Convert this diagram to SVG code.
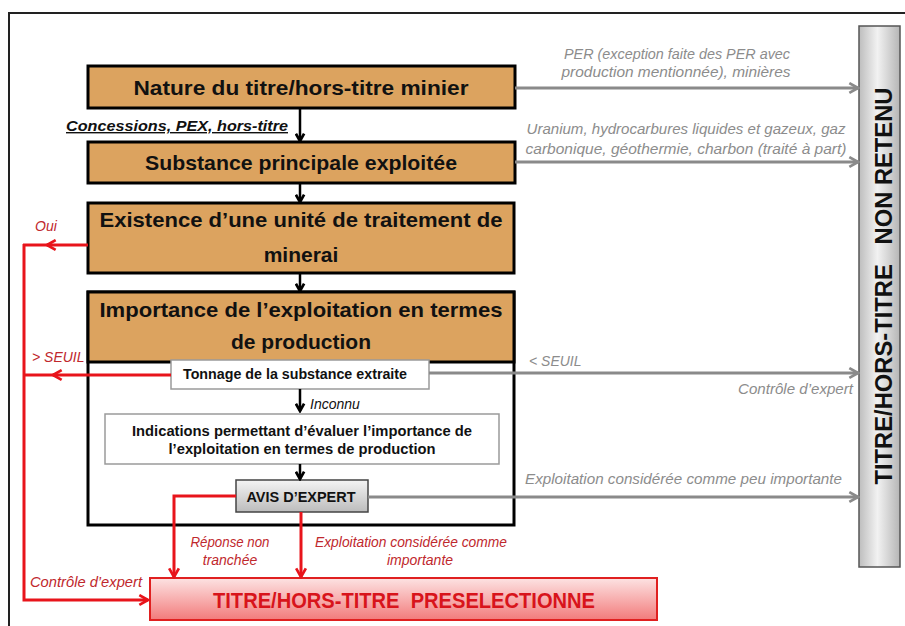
<svg xmlns="http://www.w3.org/2000/svg" width="905" height="626" viewBox="0 0 905 626">
<defs>
<style>
text{white-space:pre}
.box{fill:#DCA35F;stroke:#000;stroke-width:3}
.bt{font-family:"Liberation Sans",Arial,sans-serif;font-weight:bold;font-size:21px;fill:#111;text-anchor:middle}
.st{font-family:"Liberation Sans",Arial,sans-serif;font-weight:bold;font-size:14px;fill:#111;text-anchor:middle}
.gt{font-family:"Liberation Sans",Arial,sans-serif;font-style:italic;font-size:14px;fill:#8c8c8c}
.rt{font-family:"Liberation Sans",Arial,sans-serif;font-style:italic;font-size:14px;fill:#c0282d}
.blk{stroke:#000;stroke-width:2.5;fill:none}
.gry{stroke:#8a8a8a;stroke-width:3;fill:none}
.red{stroke:#e8141b;stroke-width:3;fill:none}
</style>
<marker id="mb" viewBox="0 0 12 12" refX="10" refY="6" markerWidth="11" markerHeight="11" markerUnits="userSpaceOnUse" orient="auto"><path d="M2,1.5 L10,6 L2,10.5" fill="none" stroke="#000" stroke-width="3"/></marker>
<marker id="mg" viewBox="0 0 12 12" refX="10" refY="6" markerWidth="13" markerHeight="13" markerUnits="userSpaceOnUse" orient="auto"><path d="M2,1.5 L10,6 L2,10.5" fill="none" stroke="#8a8a8a" stroke-width="2.5"/></marker>
<marker id="mr" viewBox="0 0 12 12" refX="10" refY="6" markerWidth="13" markerHeight="13" markerUnits="userSpaceOnUse" orient="auto"><path d="M2,1.5 L10,6 L2,10.5" fill="none" stroke="#e8141b" stroke-width="2.5"/></marker>
<linearGradient id="gPre" x1="0" y1="0" x2="0" y2="1"><stop offset="0" stop-color="#fde3e3"/><stop offset="1" stop-color="#f27b7b"/></linearGradient>
<linearGradient id="gNon" x1="0" y1="0" x2="1" y2="0"><stop offset="0" stop-color="#bdbdbd"/><stop offset="0.45" stop-color="#f2f2f2"/><stop offset="1" stop-color="#b5b5b5"/></linearGradient>
<linearGradient id="gAvis" x1="0" y1="0" x2="0" y2="1"><stop offset="0" stop-color="#f4f4f4"/><stop offset="1" stop-color="#bcbcbc"/></linearGradient>
</defs>
<rect width="905" height="626" fill="#fff"/>
<path d="M9,626 L9,13 L905,13" fill="none" stroke="#222" stroke-width="2"/>

<g id="non-retenu">
<rect x="859" y="26" width="41" height="541" fill="url(#gNon)" stroke="#555" stroke-width="1.5"/>
<text transform="translate(892,286) rotate(-90)" font-family="'Liberation Sans',Arial,sans-serif" font-weight="bold" font-size="23" fill="#111" text-anchor="middle" textLength="397" lengthAdjust="spacingAndGlyphs">TITRE/HORS-TITRE   NON RETENU</text>
</g>

<g id="container">
<rect x="88" y="292" width="426" height="233" fill="#fff" stroke="#000" stroke-width="3"/>
</g>

<g id="n1">
<rect class="box" x="88" y="66" width="427" height="42"/>
<text class="bt" x="301" y="95" textLength="335" lengthAdjust="spacingAndGlyphs">Nature du titre/hors-titre minier</text>
</g>
<g id="n2">
<rect class="box" x="88" y="142" width="427" height="41"/>
<text class="bt" x="301" y="170" textLength="312" lengthAdjust="spacingAndGlyphs">Substance principale exploitée</text>
</g>
<g id="n3">
<rect class="box" x="88" y="203" width="426" height="70"/>
<text class="bt" x="301" y="227" textLength="403" lengthAdjust="spacingAndGlyphs">Existence d’une unité de traitement de</text>
<text class="bt" x="301" y="262">minerai</text>
</g>
<g id="n4">
<rect class="box" x="88" y="292" width="426" height="70"/>
<text class="bt" x="301" y="317" textLength="403" lengthAdjust="spacingAndGlyphs">Importance de l’exploitation en termes</text>
<text class="bt" x="301" y="349">de production</text>
</g>
<g id="tonnage">
<rect x="171" y="360" width="258" height="29" fill="#fff" stroke="#9a9a9a" stroke-width="1.5"/>
<text class="st" x="295" y="379" textLength="224" lengthAdjust="spacingAndGlyphs">Tonnage de la substance extraite</text>
</g>
<g id="indications">
<rect x="105" y="414" width="394" height="50" fill="#fff" stroke="#9a9a9a" stroke-width="1.5"/>
<text class="st" x="302" y="436" textLength="340" lengthAdjust="spacingAndGlyphs">Indications permettant d’évaluer l’importance de</text>
<text class="st" x="302" y="454" textLength="267" lengthAdjust="spacingAndGlyphs">l’exploitation en termes de production</text>
</g>
<g id="avis">
<rect x="236" y="480" width="132" height="32" fill="url(#gAvis)" stroke="#444" stroke-width="1.5"/>
<text class="st" x="301" y="502" font-size="15" textLength="109" lengthAdjust="spacingAndGlyphs">AVIS D’EXPERT</text>
</g>
<g id="preselectionne">
<rect x="150" y="578" width="507" height="42" fill="url(#gPre)" stroke="#e02020" stroke-width="2"/>
<text x="404" y="608" font-family="'Liberation Sans',Arial,sans-serif" font-weight="bold" font-size="22" fill="#d8141b" text-anchor="middle" textLength="382" lengthAdjust="spacingAndGlyphs">TITRE/HORS-TITRE  PRESELECTIONNE</text>
</g>

<g id="connectors">
<line class="blk" x1="300" y1="108" x2="300" y2="141" marker-end="url(#mb)"/>
<line class="blk" x1="300" y1="183" x2="300" y2="202" marker-end="url(#mb)"/>
<line class="blk" x1="300" y1="273" x2="300" y2="291" marker-end="url(#mb)"/>
<line class="blk" x1="300" y1="389" x2="300" y2="411" marker-end="url(#mb)"/>
<line class="blk" x1="300" y1="464" x2="300" y2="479" marker-end="url(#mb)"/>

<line class="gry" x1="515" y1="88" x2="858" y2="88" marker-end="url(#mg)"/>
<line class="gry" x1="515" y1="162" x2="858" y2="162" marker-end="url(#mg)"/>
<line class="gry" x1="429" y1="373" x2="858" y2="373" marker-end="url(#mg)"/>
<line class="gry" x1="368" y1="497" x2="858" y2="497" marker-end="url(#mg)"/>

<line class="red" x1="88" y1="245" x2="47" y2="245" marker-end="url(#mr)"/>
<line class="red" x1="48" y1="245" x2="23" y2="245"/>
<line class="red" x1="171" y1="375" x2="53" y2="375" marker-end="url(#mr)"/>
<line class="red" x1="54" y1="375" x2="23" y2="375"/>
<path class="red" d="M24,244 L24,600 L148,600" marker-end="url(#mr)"/>
<path class="red" d="M236,496 L174,496 L174,577" marker-end="url(#mr)"/>
<line class="red" x1="301" y1="512" x2="301" y2="577" marker-end="url(#mr)"/>
</g>

<g id="labels">
<text x="66" y="131" font-family="'Liberation Sans',Arial,sans-serif" font-weight="bold" font-style="italic" font-size="14" fill="#111" text-decoration="underline" textLength="222" lengthAdjust="spacingAndGlyphs">Concessions, PEX, hors-titre</text>
<text x="310" y="409" font-family="'Liberation Sans',Arial,sans-serif" font-style="italic" font-size="14" fill="#111">Inconnu</text>

<text class="gt" x="677" y="59" text-anchor="middle" textLength="226" lengthAdjust="spacingAndGlyphs">PER (exception faite des PER avec</text>
<text class="gt" x="676" y="77" text-anchor="middle" textLength="229" lengthAdjust="spacingAndGlyphs">production mentionnée), minières</text>
<text class="gt" x="686" y="134" text-anchor="middle" textLength="319" lengthAdjust="spacingAndGlyphs">Uranium, hydrocarbures liquides et gazeux, gaz</text>
<text class="gt" x="686" y="154" text-anchor="middle" textLength="321" lengthAdjust="spacingAndGlyphs">carbonique, géothermie, charbon (traité à part)</text>
<text class="gt" x="529" y="366">&lt; SEUIL</text>
<text class="gt" x="853" y="394" text-anchor="end" textLength="115" lengthAdjust="spacingAndGlyphs">Contrôle d’expert</text>
<text class="gt" x="525" y="484" textLength="317" lengthAdjust="spacingAndGlyphs">Exploitation considérée comme peu importante</text>

<text class="rt" x="35" y="231">Oui</text>
<text class="rt" x="32" y="362">&gt; SEUIL</text>
<text class="rt" x="230" y="547" text-anchor="middle" textLength="79" lengthAdjust="spacingAndGlyphs">Réponse non</text>
<text class="rt" x="230" y="565" text-anchor="middle">tranchée</text>
<text class="rt" x="411" y="547" text-anchor="middle" textLength="192" lengthAdjust="spacingAndGlyphs">Exploitation considérée comme</text>
<text class="rt" x="420" y="565" text-anchor="middle">importante</text>
<text class="rt" x="30" y="587" textLength="112" lengthAdjust="spacingAndGlyphs">Contrôle d’expert</text>
</g>
</svg>
